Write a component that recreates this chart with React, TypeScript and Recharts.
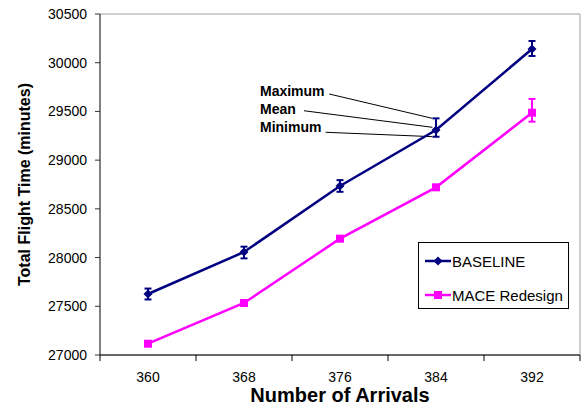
import { LineChart, Line, XAxis, YAxis, ErrorBar, Legend, ReferenceArea, ReferenceLine } from 'recharts';

const arrivals = [360, 368, 376, 384, 392];
const baseline = [27626, 28057, 28735, 29309, 30141];
const baselineErr = [[56, 56], [65, 55], [60, 60], [69, 120], [72, 82]];
const mace = [27116, 27534, 28194, 28721, 29487];
const maceErr = [[0, 0], [0, 0], [0, 0], [0, 0], [92, 141]];

const xTicks = [356, 360, 364, 368, 372, 376, 380, 384, 388, 392, 396];
const yTicks = [27000, 27500, 28000, 28500, 29000, 29500, 30000, 30500];

// leader lines from the text labels to the error bar at 384
const notes = [
  { text: 'Maximum', from: { x: 375.1, y: 29679 }, to: { x: 383.7, y: 29429 } },
  { text: 'Mean', from: { x: 373.0, y: 29507 }, to: { x: 383.7, y: 29337 } },
  { text: 'Minimum', from: { x: 374.8, y: 29286 }, to: { x: 383.7, y: 29241 } },
];

const NAVY = '#000080';
const MAGENTA = '#FF00FF';
const FONT = '"Liberation Sans", Arial, sans-serif';

const data = arrivals.map((a, i) => ({
  arrivals: a,
  baseline: baseline[i],
  baseErr: baselineErr[i],
  mace: mace[i],
  maceErr: maceErr[i],
}));

const Diamond = ({ cx, cy, fill }: any) => {
  if (cx == null || cy == null) return null;
  const r = 4.5;
  return <path d={`M${cx},${cy - r}L${cx + r},${cy}L${cx},${cy + r}L${cx - r},${cy}Z`} fill={fill} />;
};

const Square = ({ cx, cy, fill }: any) => {
  if (cx == null || cy == null) return null;
  return <rect x={cx - 4} y={cy - 4} width={8} height={8} fill={fill} />;
};

const XTick = ({ x, y, payload }: any) => {
  if (arrivals.includes(payload.value)) {
    return (
      <text x={x} y={y + 27} textAnchor="middle" fontSize={14} fontFamily={FONT} fill="#000">
        {payload.value}
      </text>
    );
  }
  return <line x1={x} y1={y} x2={x} y2={y + 6} stroke="#000" strokeWidth={1} />;
};

const LegendBox = () => (
  <div
    style={{
      position: 'relative',
      border: '1px solid #000',
      background: '#fff',
      width: 149,
      height: 65,
      fontFamily: FONT,
      fontSize: 15,
      color: '#000',
      boxSizing: 'content-box',
    }}
  >
    {[
      { label: 'BASELINE', color: NAVY, shape: 'diamond', top: 18 },
      { label: 'MACE Redesign', color: MAGENTA, shape: 'square', top: 52 },
    ].map((e) => (
      <div key={e.label} style={{ position: 'absolute', left: 6, top: e.top - 9, display: 'flex', alignItems: 'center', height: 18 }}>
        <svg width={26} height={18}>
          <line x1={0} y1={9} x2={26} y2={9} stroke={e.color} strokeWidth={2.5} />
          {e.shape === 'diamond' ? <Diamond cx={13} cy={9} fill={e.color} /> : <Square cx={13} cy={9} fill={e.color} />}
        </svg>
        <span style={{ marginLeft: 1 }}>{e.label}</span>
      </div>
    ))}
  </div>
);

export default function App() {
  return (
    <div style={{ position: 'relative', width: 581, height: 405, background: '#fff' }}>
      <style>{`body{margin:0}`}</style>
      <LineChart width={581} height={405} data={data} margin={{ top: 14, right: 1, bottom: 0, left: 0 }}>
        <ReferenceArea x1={356} x2={396} y1={27000} y2={30500} fill="none" stroke="#a0a0a0" strokeWidth={1} />
        <XAxis
          dataKey="arrivals"
          type="number"
          domain={[356, 396]}
          ticks={xTicks}
          interval={0}
          height={50}
          tickSize={0}
          tickMargin={0}
          tickLine={false}
          tick={<XTick />}
          axisLine={{ stroke: '#000', strokeWidth: 1 }}
          label={{
            value: 'Number of Arrivals',
            position: 'insideBottom',
            offset: 3,
            style: { fontWeight: 'bold', fontSize: 20, fontFamily: FONT, fill: '#000' },
          }}
        />
        <YAxis
          domain={[27000, 30500]}
          ticks={yTicks}
          interval={0}
          width={100}
          tickSize={5}
          tickMargin={8}
          tick={{ fill: '#000', fontSize: 14, fontFamily: FONT }}
          tickLine={{ stroke: '#333' }}
          axisLine={{ stroke: '#333', strokeWidth: 1 }}
          label={{
            value: 'Total Flight Time (minutes)',
            angle: -90,
            position: 'insideLeft',
            offset: 24,
            style: { textAnchor: 'middle', fontWeight: 'bold', fontSize: 16, fontFamily: FONT, fill: '#000' },
          }}
        />
        {notes.map((n) => (
          <ReferenceLine key={n.text} segment={[n.from, n.to]} stroke="#000" strokeWidth={1} />
        ))}
        <Line
          dataKey="baseline"
          name="BASELINE"
          stroke={NAVY}
          strokeWidth={2.5}
          dot={<Diamond fill={NAVY} />}
          activeDot={false}
          isAnimationActive={false}
        >
          <ErrorBar dataKey="baseErr" width={3.5} strokeWidth={2} stroke={NAVY} direction="y" />
        </Line>
        <Line
          dataKey="mace"
          name="MACE Redesign"
          stroke={MAGENTA}
          strokeWidth={2.5}
          dot={<Square fill={MAGENTA} />}
          activeDot={false}
          isAnimationActive={false}
        >
          <ErrorBar dataKey="maceErr" width={3.5} strokeWidth={2} stroke={MAGENTA} direction="y" />
        </Line>
        <Legend
          layout="horizontal"
          verticalAlign="middle"
          align="center"
          content={<LegendBox />}
          wrapperStyle={{ left: 418, top: 242, width: 151, height: 67 }}
        />
      </LineChart>
      <svg width={581} height={405} style={{ position: 'absolute', left: 0, top: 0, pointerEvents: 'none' }}>
        <text fontFamily={FONT} fontWeight="bold" fontSize={14} fill="#000">
          <tspan x={260} y={96}>Maximum</tspan>
          <tspan x={260} y={114}>Mean</tspan>
          <tspan x={260} y={132}>Minimum</tspan>
        </text>
      </svg>
    </div>
  );
}
